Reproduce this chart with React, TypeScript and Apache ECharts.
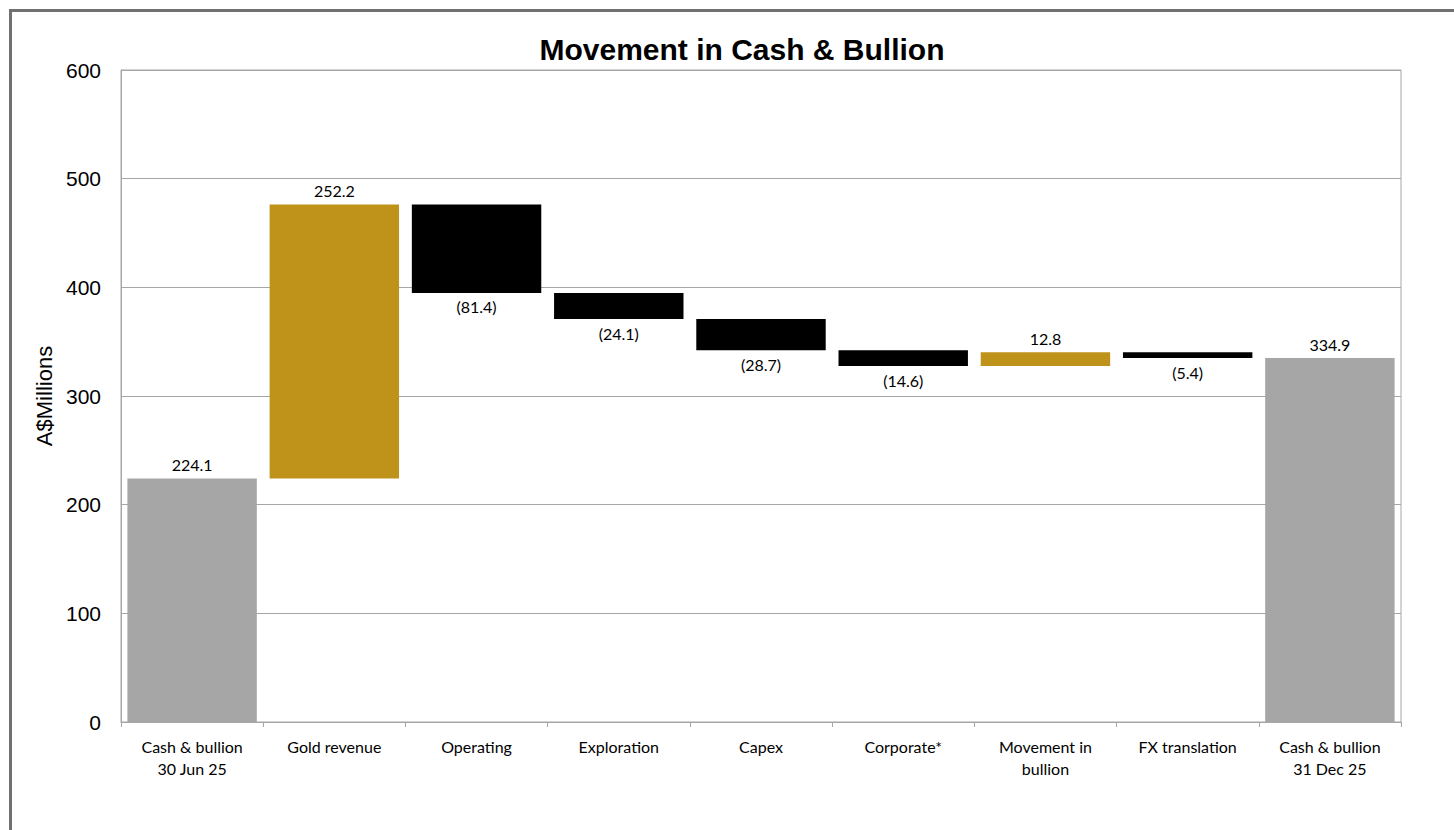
import React, { useEffect, useRef } from "react";
import * as echarts from "echarts";

const categories = [
  "Cash & bullion\n30 Jun 25",
  "Gold revenue",
  "Operating",
  "Exploration",
  "Capex",
  "Corporate*",
  "Movement in\nbullion",
  "FX translation",
  "Cash & bullion\n31 Dec 25",
];
// kind: total / up / down
const kinds = ["total", "up", "down", "down", "down", "down", "up", "down", "total"];
const amounts = [224.1, 252.2, 81.4, 24.1, 28.7, 14.6, 12.8, 5.4, 334.9];
const yTicks = [0, 100, 200, 300, 400, 500, 600];

const colors: Record<string, string> = {
  total: "#a6a6a6",
  up: "#bf921a",
  down: "#000000",
};

export default function App() {
  const ref = useRef<HTMLDivElement>(null);
  useEffect(() => {
    if (!ref.current) return;
    const chart = echarts.init(ref.current, null, { renderer: "svg" });

    const bases: number[] = [];
    let running = 0;
    amounts.forEach((v, i) => {
      const k = kinds[i];
      if (k === "total") {
        bases.push(0);
        running = v;
      } else if (k === "up") {
        bases.push(running);
        running = running + v;
      } else {
        running = running - v;
        bases.push(running);
      }
    });

    const font = "Lato, 'Open Sans', sans-serif";
    const arial = "'Liberation Sans', Arial, sans-serif";

    chart.setOption({
      animation: false,
      grid: {
        left: 121,
        right: 53,
        top: 70,
        bottom: 108,
        show: true,
        borderColor: "#a6a6a6",
        borderWidth: 1,
        containLabel: false,
      },
      graphic: [
        {
          type: "text",
          x: 742,
          y: 49,
          style: {
            text: "Movement in Cash & Bullion",
            font: "bold 30px 'Liberation Sans', Arial, sans-serif",
            fill: "#000",
            textAlign: "center",
            textVerticalAlign: "middle",
          },
        },
        {
          type: "line",
          shape: { x1: 11, y1: 10.5, x2: 1454, y2: 10.5 },
          style: { stroke: "#707070", lineWidth: 3 },
        },
        {
          type: "line",
          shape: { x1: 10.5, y1: 9, x2: 10.5, y2: 830 },
          style: { stroke: "#707070", lineWidth: 3 },
        },
      ],
      xAxis: {
        type: "category",
        data: categories,
        axisLine: { show: true, lineStyle: { color: "#a6a6a6", width: 1 } },
        axisTick: { show: true, length: 5, lineStyle: { color: "#a6a6a6" } },
        axisLabel: {
          color: "#000",
          fontFamily: font,
          fontSize: 16,
          lineHeight: 22,
          margin: 13,
          interval: 0,
        },
      },
      yAxis: {
        type: "value",
        min: yTicks[0],
        max: yTicks[yTicks.length - 1],
        interval: 100,
        name: "A$Millions",
        nameLocation: "middle",
        nameRotate: 90,
        nameGap: 63,
        nameTextStyle: {
          color: "#000",
          fontFamily: arial,
          fontSize: 22,
        },
        axisLine: { show: true, lineStyle: { color: "#a6a6a6" } },
        axisTick: { show: false },
        splitLine: { show: true, lineStyle: { color: "#a6a6a6", width: 1 } },
        axisLabel: {
          color: "#000",
          fontFamily: arial,
          fontSize: 21,
          margin: 20,
        },
      },
      series: [
        {
          type: "bar",
          stack: "wf",
          data: bases,
          itemStyle: { color: "transparent" },
          silent: true,
          barCategoryGap: "9%",
        },
        {
          type: "bar",
          stack: "wf",
          barCategoryGap: "9%",
          data: amounts.map((v, i) => ({
            value: v,
            itemStyle: { color: colors[kinds[i]] },
            label: {
              show: true,
              position: kinds[i] === "down" ? "bottom" : "top",
              distance: 6,
              color: "#000",
              fontFamily: font,
              fontSize: 16,
              formatter: () =>
                kinds[i] === "down" ? `(${v.toFixed(1)})` : v.toFixed(1),
            },
          })),
        },
      ],
    });
    return () => chart.dispose();
  }, []);
  return (
    <div
      ref={ref}
      style={{ position: "absolute", left: 0, top: 0, width: 1454, height: 830, background: "#fff" }}
    />
  );
}
